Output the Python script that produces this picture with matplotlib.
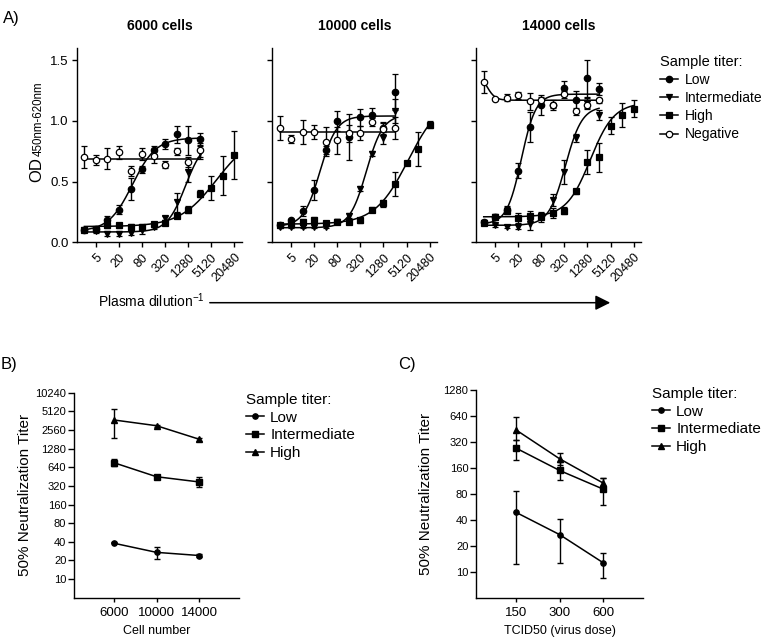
import numpy as np
import matplotlib.pyplot as plt
from matplotlib.lines import Line2D
from matplotlib.patches import FancyArrowPatch
from matplotlib.ticker import FixedLocator, NullLocator

plt.rcParams['font.family'] = ['Liberation Sans', 'DejaVu Sans']
plt.rcParams['mathtext.fontset'] = 'custom'
plt.rcParams['mathtext.rm'] = 'Liberation Sans'
plt.rcParams['axes.linewidth'] = 1.0

# ---- panel A data: OD vs plasma dilution, three cell numbers ----
panel_titles = ['6000 cells', '10000 cells', '14000 cells']
dilution = [2.5, 5, 10, 20, 40, 80, 160, 320, 640, 1280, 2560, 5120, 10240, 20480]
tick_dil = [5, 20, 80, 320, 1280, 5120, 20480]

low_od = [[0.10, 0.11, 0.18, 0.27, 0.44, 0.60, 0.76, 0.81, 0.89, 0.84, 0.85],
          [0.14, 0.18, 0.26, 0.43, 0.76, 1.00, 0.87, 1.03, 1.05, 0.94, 1.24],
          [0.17, 0.21, 0.27, 0.59, 0.95, 1.13, 1.13, 1.27, 1.17, 1.35, 1.26]]
low_sd = [[0.01, 0.01, 0.04, 0.04, 0.09, 0.03, 0.03, 0.04, 0.07, 0.12, 0.05],
          [0.01, 0.01, 0.04, 0.08, 0.03, 0.08, 0.19, 0.07, 0.06, 0.05, 0.15],
          [0.01, 0.02, 0.03, 0.06, 0.12, 0.08, 0.04, 0.06, 0.08, 0.15, 0.05]]
int_od = [[0.10, 0.09, 0.07, 0.07, 0.08, 0.10, 0.13, 0.20, 0.33, 0.58, 0.74],
          [0.13, 0.13, 0.13, 0.13, 0.13, 0.17, 0.22, 0.44, 0.73, 0.86, 1.08],
          [0.16, 0.14, 0.13, 0.13, 0.15, 0.22, 0.35, 0.58, 0.86, 1.15, 1.05]]
int_sd = [[0.01, 0.01, 0.02, 0.02, 0.02, 0.03, 0.02, 0.02, 0.08, 0.08, 0.05],
          [0.01, 0.01, 0.01, 0.01, 0.01, 0.02, 0.02, 0.02, 0.02, 0.05, 0.10],
          [0.01, 0.01, 0.01, 0.02, 0.05, 0.02, 0.05, 0.10, 0.03, 0.04, 0.04]]
high_od = [[0.10, 0.11, 0.14, 0.14, 0.13, 0.13, 0.15, 0.16, 0.22, 0.27, 0.40, 0.45, 0.55, 0.72],
           [0.14, 0.15, 0.17, 0.18, 0.16, 0.17, 0.17, 0.18, 0.27, 0.32, 0.48, 0.65, 0.77, 0.97],
           [0.16, 0.21, 0.26, 0.20, 0.22, 0.21, 0.24, 0.26, 0.42, 0.66, 0.70, 0.96, 1.05, 1.10]]
high_sd = [[0.01, 0.01, 0.02, 0.02, 0.02, 0.02, 0.02, 0.02, 0.02, 0.03, 0.03, 0.10, 0.16, 0.20],
           [0.01, 0.01, 0.02, 0.03, 0.01, 0.02, 0.02, 0.02, 0.02, 0.03, 0.10, 0.01, 0.14, 0.03],
           [0.01, 0.02, 0.03, 0.04, 0.04, 0.04, 0.04, 0.03, 0.02, 0.10, 0.12, 0.07, 0.10, 0.07]]
neg_od = [[0.70, 0.68, 0.69, 0.74, 0.59, 0.73, 0.71, 0.64, 0.75, 0.66, 0.76],
          [0.94, 0.85, 0.91, 0.91, 0.83, 0.84, 0.90, 0.90, 0.99, 0.93, 0.94],
          [1.32, 1.18, 1.19, 1.21, 1.16, 1.17, 1.13, 1.22, 1.08, 1.13, 1.17]]
neg_sd = [[0.09, 0.04, 0.09, 0.05, 0.04, 0.05, 0.06, 0.03, 0.03, 0.04, 0.06],
          [0.10, 0.03, 0.10, 0.06, 0.12, 0.11, 0.07, 0.06, 0.03, 0.05, 0.09],
          [0.09, 0.01, 0.03, 0.03, 0.07, 0.03, 0.02, 0.03, 0.03, 0.03, 0.02]]

# 4PL fit parameters per panel: (value at low dilution, value at high dilution, logEC50, hill)
fit_low = [(0.09, 0.86, 1.65, 1.4), (0.13, 1.04, 1.45, 2.0), (0.15, 1.22, 1.38, 2.3)]
fit_int = [(0.085, 0.85, 3.04, 1.8), (0.12, 1.05, 2.66, 2.0), (0.14, 1.12, 2.53, 2.0)]
fit_high = [(0.13, 0.90, 3.85, 0.9), (0.15, 1.20, 3.75, 1.0), (0.21, 1.15, 3.18, 1.4)]
fit_neg = [(0.69, 0.69, 1.0, 1.0), (0.905, 0.905, 1.0, 1.0), (1.40, 1.17, 0.477, 4.0)]

# ---- panel B: titer vs cell number ----
cells = [6000, 10000, 14000]
b_low = [38, 27, 24]
b_low_lo = [38, 21, 23]
b_low_hi = [39, 33, 25]
b_int = [760, 450, 370]
b_int_lo = [660, 430, 305]
b_int_hi = [860, 470, 440]
b_high = [3720, 3000, 1810]
b_high_lo = [1920, 2900, 1700]
b_high_hi = [5540, 3100, 1930]

# ---- panel C: titer vs virus dose ----
dose = [150, 300, 600]
c_low = [49, 27, 12.7]
c_low_lo = [12.4, 12.5, 8.5]
c_low_hi = [86, 41, 16.6]
c_int = [273, 150, 91]
c_int_lo = [200, 117, 59]
c_int_hi = [335, 186, 124]
c_high = [444, 205, 107]
c_high_lo = [335, 175, 100]
c_high_hi = [620, 240, 124]

W, H = 766, 640
fig = plt.figure(figsize=(W / 100, H / 100), dpi=100)


def px_axes(left, top, right, bottom):
    return fig.add_axes([left / W, 1 - bottom / H, (right - left) / W, (bottom - top) / H])


def fig_xy(x, y):
    return x / W, 1 - y / H


def four_pl(x, p):
    a, b, logec, hill = p
    return a + (b - a) / (1 + 10 ** ((logec - np.log10(x)) * hill))


def style_axes(ax):
    for s in ['top', 'right']:
        ax.spines[s].set_visible(False)
    ax.tick_params(direction='out', length=3.6, width=1.0, colors='k')


MS = 4.6
series = [
    ('Low', low_od, low_sd, fit_low, 'o', 'k'),
    ('Intermediate', int_od, int_sd, fit_int, 'v', 'k'),
    ('High', high_od, high_sd, fit_high, 's', 'k'),
    ('Negative', neg_od, neg_sd, fit_neg, 'o', 'white'),
]

a_left = [77, 272.3, 476.3]
for i in range(3):
    ax = px_axes(a_left[i], 48, a_left[i] + 165, 242.3)
    style_axes(ax)
    for name, od, sd, fits, mk, fc in series:
        x = dilution[:len(od[i])]
        xs = np.logspace(np.log10(x[0]), np.log10(x[-1]), 200)
        ax.plot(xs, four_pl(xs, fits[i]), color='k', lw=1.1, zorder=2)
        ax.errorbar(x, od[i], yerr=sd[i], fmt=mk, ms=MS, mfc=fc, mec='k', mew=0.9,
                    ecolor='k', elinewidth=1.0, capsize=2.3, capthick=1.0, zorder=3)
    ax.set_xscale('log')
    ax.set_xlim(1.6, 32500)
    ax.set_ylim(0, 1.6)
    ax.xaxis.set_major_locator(FixedLocator(tick_dil))
    ax.xaxis.set_minor_locator(NullLocator())
    ax.set_xticklabels([str(t) for t in tick_dil], rotation=45, ha='right',
                       va='top', rotation_mode='anchor', fontsize=9)
    ax.set_yticks([0.0, 0.5, 1.0, 1.5])
    ax.tick_params(axis='x', pad=3)
    ax.tick_params(axis='y', pad=2.5)
    if i == 0:
        ax.set_yticklabels(['0.0', '0.5', '1.0', '1.5'], fontsize=9.5)
    else:
        ax.set_yticklabels([])
    ax.set_title(panel_titles[i], fontsize=10, fontweight='bold', pad=13)

# y label of panel A: "OD" with a subscript, as two rotated texts
fig.text(37.2 / W, 1 - 182 / H, 'OD', fontsize=12, rotation=90, ha='center', va='bottom')
fig.text(38.6 / W, 1 - 155.5 / H, '450nm-620nm', fontsize=8.3, rotation=90,
         ha='center', va='bottom')

# legend for panel A
a_handles = [Line2D([0], [0], color='k', lw=1.1, marker=mk, ms=MS, mfc=fc, mec='k', mew=0.9)
             for _, _, _, _, mk, fc in series]
fig.legend(a_handles, [s[0] for s in series], title='Sample titer:', loc='upper left',
           bbox_to_anchor=fig_xy(650, 45), frameon=False, fontsize=10,
           title_fontsize=10.5, alignment='left', handlelength=1.35,
           handletextpad=0.45, labelspacing=0.3, borderpad=0.2)

# dilution arrow
fig.text(98 / W, 1 - 306.5 / H, r'Plasma dilution$^{\mathregular{-1}}$', fontsize=10,
         ha='left', va='baseline')
arrow = FancyArrowPatch(fig_xy(207, 302.7), fig_xy(613, 302.7), transform=fig.transFigure,
                        arrowstyle='-|>,head_length=0.6,head_width=0.3', mutation_scale=15,
                        color='k', lw=1.1)
fig.add_artist(arrow)

fig.text(3 / W, 1 - 18 / H, 'A)', fontsize=12, ha='left', va='center')
fig.text(1 / W, 1 - 365 / H, 'B)', fontsize=12, ha='left', va='center')
fig.text(398 / W, 1 - 365 / H, 'C)', fontsize=12, ha='left', va='center')

b_series = [('Low', b_low, b_low_lo, b_low_hi, 'o'),
            ('Intermediate', b_int, b_int_lo, b_int_hi, 's'),
            ('High', b_high, b_high_lo, b_high_hi, '^')]
c_series = [('Low', c_low, c_low_lo, c_low_hi, 'o'),
            ('Intermediate', c_int, c_int_lo, c_int_hi, 's'),
            ('High', c_high, c_high_lo, c_high_hi, '^')]

MS2 = 3.8


def titer_panel(ax, xvals, data, yticks, lpad):
    style_axes(ax)
    for name, y, lo, hi, mk in data:
        y = np.array(y, dtype=float)
        yerr = [y - np.array(lo), np.array(hi) - y]
        ax.errorbar(xvals, y, yerr=yerr, fmt='-' + mk, color='k', ms=MS2, lw=1.1,
                    elinewidth=1.0, capsize=2.3, capthick=1.0)
    ax.set_yscale('log', base=2)
    ax.set_ylim(5, yticks[-1])
    ax.yaxis.set_major_locator(FixedLocator(yticks))
    ax.yaxis.set_minor_locator(NullLocator())
    ax.set_yticklabels([str(t) for t in yticks], fontsize=8)
    ax.tick_params(axis='y', length=4, pad=1.5)
    ax.tick_params(axis='x', length=3, pad=4, labelsize=9.5)
    ax.set_ylabel('50% Neutralization Titer', fontsize=11, labelpad=lpad)


def titer_legend(data, x, y):
    hs = [Line2D([0], [0], color='k', lw=1.1, marker=d[4], ms=MS2) for d in data]
    fig.legend(hs, [d[0] for d in data], title='Sample titer:', loc='upper left',
               bbox_to_anchor=fig_xy(x, y), frameon=False, fontsize=11,
               title_fontsize=11, alignment='left', handlelength=1.2,
               handletextpad=0.4, labelspacing=0.25, borderpad=0.2)


axb = px_axes(74, 392.7, 239, 597.7)
titer_panel(axb, cells, b_series, [10, 20, 40, 80, 160, 320, 640, 1280, 2560, 5120, 10240], 2.5)
axb.set_xlim(2300, 17700)
axb.set_xticks(cells)
axb.set_xticklabels([str(c) for c in cells])
axb.set_xlabel('Cell number', fontsize=9, labelpad=4)
titer_legend(b_series, 235, 382)

axc = px_axes(476, 390.3, 643.3, 597.7)
titer_panel(axc, dose, c_series, [10, 20, 40, 80, 160, 320, 640, 1280], 7.4)
axc.set_xscale('log')
axc.set_xlim(79.5, 1132)
axc.xaxis.set_major_locator(FixedLocator(dose))
axc.xaxis.set_minor_locator(NullLocator())
axc.set_xticklabels([str(d) for d in dose])
axc.set_xlabel('TCID50 (virus dose)', fontsize=9, labelpad=4)
titer_legend(c_series, 641, 376)

fig.savefig('out.png', dpi=100)
